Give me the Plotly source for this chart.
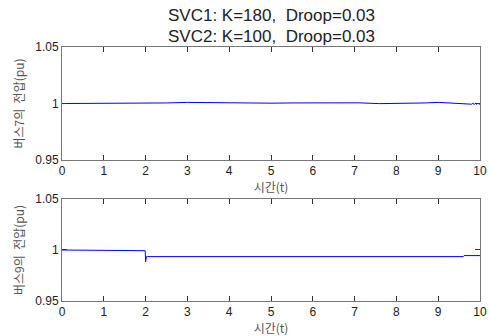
import plotly.graph_objects as go
from plotly.subplots import make_subplots

# Top: bus 7 voltage
t7 = [0, 1, 2, 2.5, 3, 3.5, 4, 4.5, 5, 5.5, 6, 6.5, 6.8, 7.1, 7.6, 8.0, 8.3, 8.7, 9.0, 9.3, 9.6, 9.75,
      9.8, 9.83, 9.86, 9.89, 9.92, 9.95, 9.98, 10]
v7 = [1.0, 1.0, 1.0, 1.0005, 1.001, 1.0008, 1.0005, 1.0002, 1.0003, 1.0005, 1.0006, 1.0006, 1.001, 1.0006,
      0.9999, 0.9999, 1.0003, 1.0005, 1.001, 1.0006, 1.0003, 0.9997,
      0.9994, 1.0002, 0.9992, 1.0001, 0.9993, 1.0002, 0.9994, 0.9998]

# Bottom: bus 9 voltage
t9 = [0, 0.3, 0.35, 0.6, 0.65, 0.9, 0.95, 1.2, 1.25, 1.4, 1.45, 1.6, 1.65, 1.8, 1.85, 1.95, 1.99,
      2.0, 2.01, 2.02, 2.04, 3, 4, 5, 6, 7, 8, 9, 9.6, 9.62, 10]
v9 = [1.0, 1.0, 0.9996, 1.0, 0.9996, 1.0, 0.9996, 1.0, 0.9995, 1.0, 0.9996, 1.0, 0.9995, 1.0, 0.9995, 1.0, 0.9993,
      0.9885, 0.9905, 0.9935, 0.9935, 0.9935, 0.9935, 0.9935, 0.9935, 0.9935, 0.9935, 0.9935, 0.9935, 0.9945, 0.9945]

x_ticks = [0, 1, 2, 3, 4, 5, 6, 7, 8, 9, 10]
y_ticks = [0.95, 1.0, 1.05]
y_tick_text = ["0.95", "1", "1.05"]
title_lines = ["SVC1: K=180,  Droop=0.03", "SVC2: K=100,  Droop=0.03"]

fig = make_subplots(rows=2, cols=1)
fig.add_trace(go.Scatter(x=t7, y=v7, mode="lines", line=dict(color="#0000ff", width=1)), row=1, col=1)
fig.add_trace(go.Scatter(x=t9, y=v9, mode="lines", line=dict(color="#0000ff", width=1)), row=2, col=1)

axfont = dict(family="Liberation Sans, Arial, sans-serif", size=12, color="#222")
kfont = dict(family="Noto Sans CJK KR, sans-serif", size=12, color="#555")

for r, ylab in [(1, "버스7의  전압(pu)"), (2, "버스9의  전압(pu)")]:
    fig.update_xaxes(range=[0, 10], tickvals=x_ticks, ticks="inside", ticklen=5, tickcolor="#333",
                     showline=True, linecolor="#777", linewidth=1, mirror="ticks", showgrid=False,
                     zeroline=False, tickfont=axfont, automargin=False,
                     title=dict(text="시간(t)", font=kfont, standoff=0), row=r, col=1)
    fig.update_yaxes(range=[0.95, 1.05], tickvals=y_ticks, ticktext=y_tick_text, ticks="inside", ticklen=5,
                     tickcolor="#333", showline=True, linecolor="#777", linewidth=1, mirror="ticks",
                     showgrid=False, zeroline=False, tickfont=axfont, automargin=False,
                     title=dict(text=ylab, font=kfont, standoff=8), row=r, col=1)

fig.update_layout(yaxis=dict(domain=[0.555, 1.0]), yaxis2=dict(domain=[0.0, 0.4016]))

for line, shift in zip(title_lines, [32, 11]):
    fig.add_annotation(text=line, xref="paper", yref="paper", x=0.5, y=1,
                       xanchor="center", yanchor="middle", yshift=shift, showarrow=False,
                       font=dict(family="Liberation Sans, Arial, sans-serif", size=17, color="#222"))

fig.update_layout(
    width=489, height=336,
    margin=dict(l=62, r=9, t=47, b=35),
    paper_bgcolor="white", plot_bgcolor="white",
    showlegend=False,
)

fig.write_html("out.html", config={"displayModeBar": False},
               post_script="document.body.style.margin='0';")
